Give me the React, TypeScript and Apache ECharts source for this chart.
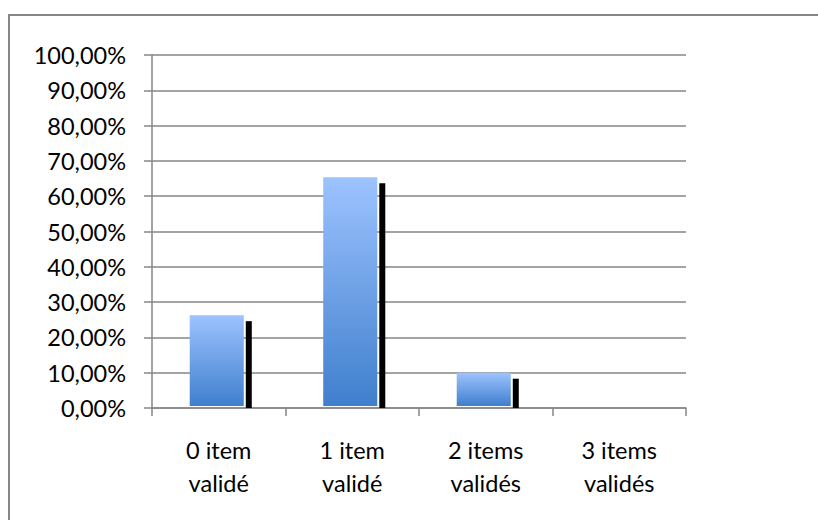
import React, { useEffect, useRef } from "react";
import * as echarts from "echarts";

const categories = ["0 item\nvalidé", "1 item\nvalidé", "2 items\nvalidés", "3 items\nvalidés"];
const values = [26.3, 65.4, 10.0, 0];
const yTicks = { min: 0, max: 100, interval: 10 };

export default function App() {
  const ref = useRef<HTMLDivElement>(null);
  useEffect(() => {
    if (!ref.current) return;
    const chart = echarts.init(ref.current, null, { renderer: "svg" });
    const font = "Lato";
    chart.setOption({
      animation: false,
      backgroundColor: "#ffffff",
      graphic: [
        {
          type: "rect",
          shape: { x: 9, y: 15, width: 1000, height: 800 },
          style: { fill: "none", stroke: "#868686", lineWidth: 2 },
          silent: true,
        },
      ],
      grid: { left: 152, right: 132, top: 55, bottom: 112, containLabel: false },
      xAxis: {
        type: "category",
        data: categories,
        boundaryGap: true,
        axisLine: { show: true, lineStyle: { color: "#868686", width: 1.5 } },
        axisTick: { show: true, length: 8, alignWithLabel: false, lineStyle: { color: "#868686", width: 1.5 } },
        axisLabel: {
          color: "#000",
          fontFamily: font,
          fontSize: 23.5,
          lineHeight: 33,
          margin: 25,
          interval: 0,
        },
        splitLine: { show: false },
      },
      yAxis: {
        type: "value",
        min: yTicks.min,
        max: yTicks.max,
        interval: yTicks.interval,
        axisLine: { show: true, lineStyle: { color: "#868686", width: 1.5 } },
        axisTick: { show: true, length: 8, lineStyle: { color: "#868686", width: 1.5 } },
        axisLabel: {
          color: "#000",
          fontFamily: font,
          fontSize: 23.5,
          margin: 26,
          formatter: (v: number) => v.toFixed(2).replace(".", ",") + "%",
        },
        splitLine: { show: true, lineStyle: { color: "#868686", width: 1.5 } },
      },
      series: [
        {
          type: "custom",
          data: values.map((v, i) => [i, v]),
          encode: { x: 0, y: 1 },
          renderItem: (params: any, api: any) => {
            const idx = api.value(0);
            const v = api.value(1);
            if (!v) return { type: "group", children: [] };
            const top = api.coord([idx, v]);
            const base = api.coord([idx, 0]);
            const catW = api.size([1, 0])[0];
            const bw = catW * 0.405;
            const x0 = top[0] - bw / 2 - 2;
            return {
              type: "group",
              children: [
                {
                  type: "rect",
                  shape: { x: x0 + bw + 2, y: top[1] + 6, width: 6, height: base[1] - top[1] - 6 },
                  style: { fill: "#000000" },
                },
                {
                  type: "rect",
                  shape: { x: x0, y: top[1], width: bw, height: base[1] - top[1] - 2 },
                  style: {
                    fill: new echarts.graphic.LinearGradient(0, 0, 0, 1, [
                      { offset: 0, color: "#9dc3ff" },
                      { offset: 1, color: "#3f7fcd" },
                    ]),
                  },
                },
              ],
            };
          },
        },
      ],
    });
    return () => chart.dispose();
  }, []);
  return <div ref={ref} style={{ position: "fixed", left: 0, top: 0, width: 818, height: 520 }} />;
}
